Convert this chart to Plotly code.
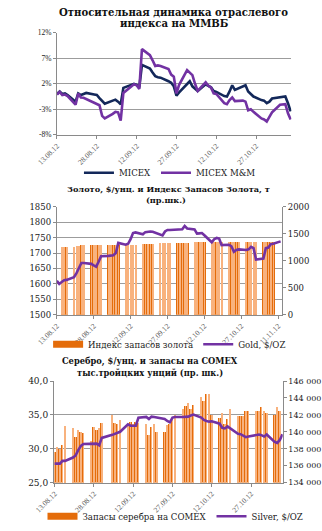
import pandas as pd
import plotly.graph_objects as go

# ---------------- Chart 1: MICEX vs MICEX M&M (relative change, %) ----------------
micex_dates = pd.bdate_range("2012-08-13", "2012-11-09")
micex = [0.0, 0.5, 0.0, 0.1, -0.2,
         -1.5, 0.1, -0.2, 0.0, 0.2,
         -0.1, -0.2, -0.8, -1.3, -1.9,
         -1.3, -1.1, -1.5, -2.0, 1.2,
         1.9, 2.0, 1.8, 1.3, 5.7,
         5.0, 4.2, 3.5, 3.3, 3.2,
         2.5, 2.2, 1.5, -0.3, 0.3,
         2.0, 2.5, 1.5, 1.0, 0.6,
         1.9, 1.6, 1.3, 0.6, 0.4,
         -0.4, -0.5, 0.5, 1.7, 0.8,
         1.5, 1.7, 0.5, 0.0, -0.5,
         -1.2, -1.3, -1.8, -1.5, -0.9,
         -0.7, -0.5, -0.5, -1.8, -3.4]
micex_mm = [-0.1, 0.4, -0.2, -0.1, -0.4,
            -2.1, 0.1, -0.7, -0.75, -1.0,
            -1.8, -1.9, -2.2, -4.3, -4.8,
            -3.9, -3.5, -3.6, -5.2, 0.2,
            1.6, 1.9, 1.7, 1.0, 8.8,
            7.6, 6.6, 5.5, 5.6, 5.5,
            4.9, 3.8, 3.4, 0.1, 1.8,
            4.7, 4.2, 3.7, 2.0, 0.6,
            2.3, 1.6, 1.3, 0.1, 0.0,
            -1.8, -2.0, -1.2, -0.7, -1.4,
            -1.3, -1.5, -3.2, -3.0, -3.5,
            -4.8, -5.0, -5.4, -4.5, -3.6,
            -2.1, -2.05, -2.0, -3.8, -5.0]
pct_ticks = [-8, -3, 2, 7, 12]
pct_labels = ["-8%", "-3%", "2%", "7%", "12%"]

# ---------------- Chart 2: gold price and gold holdings index ----------------
gold_price_dates = pd.bdate_range("2012-08-13", "2012-11-12")
gold_price = [1610, 1600, 1606, 1612, 1613,
              1622, 1635, 1650, 1668, 1668,
              1665, 1660, 1656, 1672, 1690,
              1691, 1692, 1693, 1700, 1733,
              1727, 1730, 1745, 1765, 1767,
              1761, 1768, 1770, 1770, 1769,
              1761, 1757, 1770, 1775, 1775,
              1776, 1776, 1777, 1788, 1780,
              1777, 1763, 1764, 1765, 1758,
              1735, 1745, 1749, 1747, 1726,
              1727, 1722, 1704, 1710, 1712,
              1710, 1712, 1720, 1716, 1679,
              1682, 1716, 1718, 1729, 1730,
              1738]
gold_index_dates = pd.bdate_range("2012-08-15", "2012-11-09")
gold_index = [1266, 1266, 1266,
              1266, 1272, 1283, 1297, 1297,
              1303, 1303, 1303, 1303, 1303,
              1303, 1303, 1303, 1303, 1303,
              1303, 1303, 1303, 1303, 1303,
              1314, 1314, 1314, 1314, 1314,
              1331, 1335, 1340, 1338, 1335,
              1326, 1326, 1326, 1326, 1326,
              1343, 1343, 1343, 1343, 1343,
              1343, 1343, 1343, 1343, 1343,
              1343, 1343, 1343, 1343, 1343,
              1343, 1343, 1343, 1343, 1343,
              1343, 1343, 1343, 1343, 1343]

# ---------------- Chart 3: silver price and COMEX stocks ----------------
us_holiday = pd.Timestamp("2012-09-03")
silver_price_dates = [d for d in pd.bdate_range("2012-08-13", "2012-11-08") if d != us_holiday]
silver_price = [27.8, 27.8, 27.8, 28.2, 28.2,
                28.7, 29.0, 29.8, 30.4, 30.7,
                30.75, 30.75, 30.75, 30.5, 31.6,
                32.05, 32.2, 32.3, 32.5,
                33.6, 33.4, 33.4, 33.4, 34.6,
                34.7, 34.4, 34.75, 34.7, 34.65,
                34.4, 34.1, 33.9, 34.6, 34.7,
                34.7, 34.7, 34.75, 34.9, 35.05,
                34.6, 34.25, 34.1, 34.0, 34.05,
                33.7, 33.1, 33.0, 33.3, 33.0,
                32.2, 32.15, 31.9, 31.7, 31.8,
                32.1, 32.1, 32.0, 31.8, 32.1,
                31.0, 30.85, 31.3, 32.15]
silver_stock_dates = [d for d in pd.bdate_range("2012-08-13", "2012-11-07") if d != us_holiday]
silver_stock = [137600, 138240, 138000, 138480, 140640,
                140480, 139360, 140160, 140000, 139880,
                138960, 140560, 140240, 140480, 141000,
                142000, 141040, 140920, 141440,
                140800, 141200, 140880, 141120, 141040,
                140880, 139600, 140560, 140880, 140000,
                140000, 140800, 140960, 141360, 142000,
                142640, 143040, 143440, 142640, 143120,
                144080, 143600, 144480, 144480, 142000,
                141600, 142160, 140880, 141520, 142640,
                141840, 141840, 141840, 142400, 142400,
                142400, 142400, 142880, 142480, 142160,
                142000, 142880, 142480]

# ---------------- styling ----------------
W, H = 322, 531
NAVY = "#13285A"
PURPLE = "#7232A3"
ORANGE = "#E46C0A"
ORANGE_LIGHT = "#F8B27E"
GRID = "#9C9C9C"
AXIS = "#8A8A8A"
SERIF = "DejaVu Serif"
TSERIF = "Liberation Serif"
DAY = 86400000


def px_x(v):
    return v / W


def px_y(v):
    return 1 - v / H


def day(d0, n):
    return pd.Timestamp(d0) + pd.Timedelta(days=n)


fig = go.Figure()

# chart 1
fig.add_trace(go.Scatter(x=micex_dates, y=micex, name="MICEX", mode="lines",
                         line=dict(color=NAVY, width=2.6), xaxis="x", yaxis="y",
                         legend="legend", legendgroup="m1"))
fig.add_trace(go.Scatter(x=micex_dates, y=micex_mm, name="MICEX M&M", mode="lines",
                         line=dict(color=PURPLE, width=2.6), xaxis="x", yaxis="y",
                         legend="legend", legendgroup="m2"))

# chart 2 (bars on right axis y2, line on left axis y3 overlaying)
fig.add_trace(go.Bar(x=gold_index_dates, y=gold_index, width=0.94 * DAY, marker=dict(color=ORANGE, line=dict(width=0)),
                     showlegend=False, xaxis="x2", yaxis="y2", legendgroup="gi"))
fig.add_trace(go.Bar(x=gold_index_dates, y=gold_index, width=0.34 * DAY, marker=dict(color=ORANGE_LIGHT, line=dict(width=0)),
                     showlegend=False, xaxis="x2", yaxis="y2", legendgroup="gi", hoverinfo="skip"))
fig.add_trace(go.Scatter(x=[None], y=[None], name="Индекс запасов золота", mode="lines",
                         line=dict(color=ORANGE, width=7), xaxis="x2", yaxis="y2", legend="legend2", legendgroup="gi"))
fig.add_trace(go.Scatter(x=gold_price_dates, y=gold_price, name="Gold, $/OZ", mode="lines",
                         line=dict(color=PURPLE, width=2.6), xaxis="x2", yaxis="y3",
                         legend="legend2", legendgroup="gp"))

# chart 3 (bars on right axis y4, line on left axis y5 overlaying)
fig.add_trace(go.Bar(x=silver_stock_dates, y=silver_stock, width=0.72 * DAY, marker=dict(color=ORANGE, line=dict(width=0)),
                     showlegend=False, xaxis="x3", yaxis="y4", legendgroup="ss"))
fig.add_trace(go.Bar(x=silver_stock_dates, y=silver_stock, width=0.26 * DAY, marker=dict(color=ORANGE_LIGHT, line=dict(width=0)),
                     showlegend=False, xaxis="x3", yaxis="y4", legendgroup="ss", hoverinfo="skip"))
fig.add_trace(go.Scatter(x=[None], y=[None], name="Запасы серебра на COMEX", mode="lines",
                         line=dict(color=ORANGE, width=7), xaxis="x3", yaxis="y4", legend="legend3", legendgroup="ss"))
fig.add_trace(go.Scatter(x=silver_price_dates, y=silver_price, name="Silver, $/OZ", mode="lines",
                         line=dict(color=PURPLE, width=2.6), xaxis="x3", yaxis="y5",
                         legend="legend3", legendgroup="sp"))

xcommon = dict(type="date", tickformat="%d.%m.%y", dtick=15 * DAY, tick0="2012-08-13",
               tickangle=-45, showgrid=False, showline=True, linecolor=AXIS, linewidth=1,
               ticks="outside", ticklen=3, tickcolor=AXIS,
               tickfont=dict(family=TSERIF, size=7.5, color="#595959"), zeroline=False)

legend_common = dict(orientation="h", xanchor="left", yanchor="middle", bgcolor="rgba(0,0,0,0)",
                     font=dict(family=SERIF, size=8.6, color="#1a1a1a"), itemwidth=30, tracegroupgap=0)

fig.update_layout(
    width=W, height=H, margin=dict(l=0, r=0, t=0, b=0),
    paper_bgcolor="white", plot_bgcolor="white",
    separators=", ", barmode="overlay", bargap=0,
    xaxis=dict(xcommon, domain=[px_x(38.5), px_x(289.3)], anchor="y",
               range=[day("2012-08-13", 0), day("2012-08-13", 88.3)]),
    yaxis=dict(domain=[px_y(132.3), px_y(28.3)], anchor="x", range=[-8, 12],
               tickvals=pct_ticks, ticktext=pct_labels, showgrid=True, gridcolor=GRID, gridwidth=1.3,
               showline=True, linecolor=AXIS, ticks="outside", ticklen=3, tickcolor=AXIS, zeroline=False,
               tickfont=dict(family=TSERIF, size=7.5, color="#1a1a1a")),
    xaxis2=dict(xcommon, domain=[px_x(38.3), px_x(279.3)], anchor="y2",
                range=[day("2012-08-13", 0), day("2012-08-13", 91.6)]),
    yaxis2=dict(domain=[px_y(315.7), px_y(205.7)], anchor="x2", side="right", range=[0, 2000], dtick=500,
                showgrid=False, showline=True, linecolor=AXIS, ticks="outside", ticklen=3, tickcolor=AXIS,
                zeroline=False, tickfont=dict(family=SERIF, size=8.5, color="#1a1a1a")),
    yaxis3=dict(overlaying="y2", anchor="x2", side="left", range=[1500, 1850], dtick=50,
                showgrid=True, gridcolor=GRID, gridwidth=1.3, showline=True, linecolor=AXIS,
                ticks="outside", ticklen=3, tickcolor=AXIS, zeroline=False,
                tickfont=dict(family=SERIF, size=8.5, color="#1a1a1a")),
    xaxis3=dict(xcommon, domain=[px_x(35.3), px_x(280)], anchor="y4",
                range=[day("2012-08-13", -0.25), day("2012-08-13", 87.1)]),
    yaxis4=dict(domain=[px_y(486.7), px_y(383.3)], anchor="x3", side="right", range=[134000, 146000], dtick=2000,
                tickformat=",d",
                showgrid=False, showline=True, linecolor=AXIS, ticks="outside", ticklen=3, tickcolor=AXIS,
                zeroline=False, tickfont=dict(family=SERIF, size=8, color="#1a1a1a")),
    yaxis5=dict(overlaying="y4", anchor="x3", side="left", range=[25, 40], dtick=5, tickformat=".1f",
                showgrid=True, gridcolor=GRID, gridwidth=1.3, showline=True, linecolor=AXIS,
                ticks="outside", ticklen=3, tickcolor=AXIS, zeroline=False,
                tickfont=dict(family=SERIF, size=9, color="#1a1a1a")),
    legend=dict(legend_common, x=px_x(62), y=px_y(171)),
    legend2=dict(legend_common, x=px_x(29), y=px_y(345.7)),
    legend3=dict(legend_common, x=px_x(23), y=px_y(521)),
)

titles = [
    ("Относительная динамика отраслевого", 163, 7.5, 10.1),
    ("индекса на ММВБ", 164.5, 18.5, 10.1),
    ("Золото, $/унц. и Индекс Запасов Золота, т", 158, 187.5, 8.2),
    ("(пр.шк.)", 155, 198.5, 8.2),
    ("Серебро, $/унц. и запасы на COMEX", 137.5, 363.3, 8.3),
    ("тыс.тройцких унций (пр. шк.)", 138.5, 375.5, 8.3),
]
for text, cx, cy, fs in titles:
    fig.add_annotation(text="<b>" + text + "</b>", x=px_x(cx), y=px_y(cy), xref="paper", yref="paper",
                       xanchor="center", yanchor="middle", showarrow=False,
                       font=dict(family=SERIF, size=fs, color="#111111"))

fig.write_html("out.html")
